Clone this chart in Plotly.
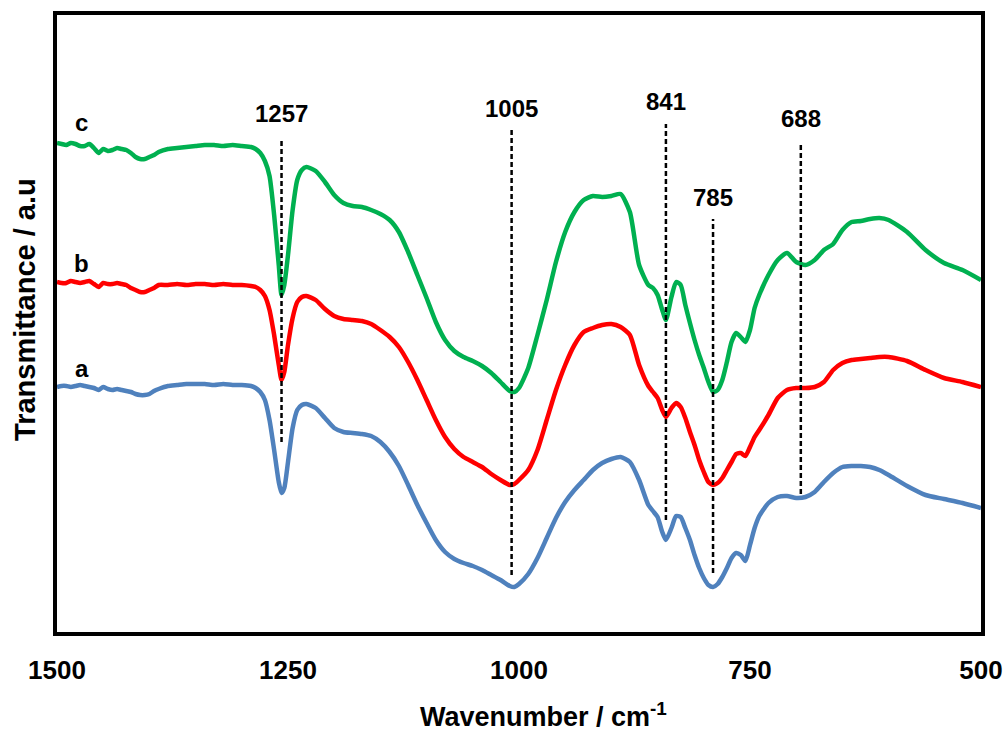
import plotly.graph_objects as go

# Wavenumber grid (cm-1)
wavenumber = [1500, 1495, 1490, 1485, 1480, 1475, 1470, 1465, 1460, 1455, 1450, 1445, 1440, 1435, 1430, 1425,
              1420, 1415, 1410, 1405, 1400, 1395, 1390, 1380, 1370, 1360, 1350, 1340, 1330, 1320, 1310, 1300,
              1290, 1285, 1280, 1275, 1270, 1265, 1260, 1257, 1254, 1250, 1245, 1240, 1235,
              1230, 1220, 1210, 1200, 1190, 1180, 1170, 1160, 1150, 1140, 1130, 1120, 1110, 1100, 1090, 1080,
              1070, 1060, 1050, 1040, 1030, 1020, 1010, 1005, 1000, 990, 980, 970, 960, 950, 940, 930, 920,
              910, 900, 890, 880, 870, 860, 855, 850, 845, 841, 835, 830, 825, 820, 815, 810, 805, 800, 795,
              790, 785, 780, 775, 770, 765, 760, 755, 750, 745, 740, 730, 720, 710, 700, 690, 680, 670, 660,
              650, 640, 630, 620, 610, 600, 580, 560, 540, 520, 500]

# Transmittance (a.u.), offset spectra
trans_c = [489, 488, 487, 489, 488, 486, 486, 488, 484, 479, 483, 481, 482, 484, 483, 482,
           479, 475, 473, 473, 475, 477, 480, 483, 484, 485, 486, 487, 487, 486, 487, 486,
           485, 483, 479, 471, 456, 417, 367, 337, 347, 377, 422, 452, 462,
           465, 461, 450, 437, 429, 426, 425, 422, 418, 412, 400, 380, 357, 334, 310, 292,
           281, 275, 271, 266, 259, 250, 241, 240, 244, 264, 297, 332, 370, 400, 420, 432, 436,
           435, 436, 438, 420, 367, 347, 344, 337, 322, 312, 335, 350, 347, 327, 309, 292, 277, 264, 250,
           240, 242, 252, 270, 290, 299, 295, 290, 302, 324, 337, 357, 372, 379, 370, 367, 372, 382, 388,
           402, 410, 411, 413, 414, 412, 400, 382, 369, 362, 352]

trans_b = [350, 349, 349, 351, 350, 349, 350, 351, 348, 345, 349, 348, 348, 349, 348, 347,
           344, 342, 340, 340, 342, 344, 347, 347, 348, 347, 348, 348, 347, 348, 347, 347,
           346, 345, 342, 336, 322, 297, 267, 252, 260, 287, 314, 330, 335,
           336, 332, 323, 316, 313, 312, 311, 308, 302, 295, 285, 270, 252, 232, 212, 195,
           183, 175, 170, 165, 158, 152, 147, 148, 152, 162, 182, 212, 242, 267, 287, 300, 304,
           307, 308, 305, 297, 267, 246, 240, 234, 222, 215, 224, 229, 225, 214, 200, 187, 172, 160, 150,
           147, 149, 154, 162, 170, 178, 179, 176, 185, 195, 202, 217, 234, 242, 244, 244, 245, 250, 262,
           269, 272, 273, 274, 275, 275, 271, 262, 254, 250, 245]

trans_a = [245, 246, 246, 245, 246, 247, 246, 245, 244, 242, 245, 243, 242, 243, 242, 241,
           240, 238, 237, 237, 238, 241, 243, 246, 247, 248, 248, 248, 247, 248, 247, 247,
           246, 244, 240, 232, 212, 182, 150, 139, 144, 170, 204, 222, 227,
           228, 224, 214, 204, 200, 199, 198, 196, 190, 180, 166, 147, 127, 109, 92, 80,
           73, 69, 66, 62, 57, 52, 46, 45, 48, 58, 74, 94, 114, 130, 142, 152, 162,
           169, 173, 175, 170, 152, 127, 121, 115, 100, 92, 104, 116, 115, 104, 92, 77, 64, 54, 47,
           45, 48, 55, 64, 74, 79, 77, 71, 87, 104, 116, 129, 135, 136, 134, 135, 140, 150, 159,
           165, 166, 166, 165, 162, 157, 146, 137, 133, 129, 124]

series_names = ["a", "b", "c"]
series_colors = ["#4F81BD", "#FF0000", "#00B050"]

# Marked bands: line position, label, top/bottom of dashed line, label height
band_pos = [1257, 1008, 841, 790, 695]
band_labels = ["1257", "1005", "841", "785", "688"]
band_top = [491, 503, 508, 413, 490]
band_bottom = [190, 57, 112, 59, 138]
band_label_y = [519, 524, 531, 435, 514]

# Series letter labels
letter_x = [1473, 1473, 1473]
letter_y = [264, 369, 510]

tick_vals = [1500, 1250, 1000, 750, 500]

FONT = "Arial, Liberation Sans, sans-serif"

fig = go.Figure()
for name, col, ys in zip(series_names, series_colors, [trans_a, trans_b, trans_c]):
    fig.add_trace(go.Scatter(x=wavenumber, y=ys, mode="lines", name=name,
                             line=dict(color=col, width=4.5, shape="spline", smoothing=0.6),
                             showlegend=False))

for pos, lab, top, bot, ly in zip(band_pos, band_labels, band_top, band_bottom, band_label_y):
    fig.add_shape(type="line", xref="x", yref="y", x0=pos, x1=pos, y0=bot, y1=top,
                  line=dict(color="black", width=2.5, dash="5px,3px"))
    fig.add_annotation(x=pos, y=ly, xref="x", yref="y", text="<b>%s</b>" % lab, showarrow=False,
                       font=dict(family=FONT, size=24, color="black"), xanchor="center", yanchor="middle")

for name, lx, ly in zip(series_names, letter_x, letter_y):
    fig.add_annotation(x=lx, y=ly, xref="x", yref="y", text="<b>%s</b>" % name, showarrow=False,
                       font=dict(family=FONT, size=24, color="black"), xanchor="center", yanchor="middle")

# Axis titles
fig.add_annotation(x=0.527, y=-0.1635, xref="paper", yref="paper",
                   text="<b>Wavenumber / cm<sup>-1</sup></b>", showarrow=False, borderpad=0,
                   font=dict(family=FONT, size=27, color="black"), xanchor="center", yanchor="bottom")
fig.add_annotation(x=-0.0346, y=0.522, xref="paper", yref="paper",
                   text="<b>Transmittance / a.u</b>", showarrow=False, textangle=-90,
                   font=dict(family=FONT, size=29, color="black"), xanchor="center", yanchor="middle")

fig.update_layout(
    width=1007, height=733,
    margin=dict(l=57, r=26, t=15, b=101, autoexpand=False),
    paper_bgcolor="white", plot_bgcolor="white",
    font=dict(family=FONT, color="black"),
    xaxis=dict(range=[1500, 500], tickvals=tick_vals, ticktext=["<b>%d</b>" % v for v in tick_vals],
               tickfont=dict(family=FONT, size=26, color="black"),
               ticks="outside", ticklen=12, tickcolor="rgba(0,0,0,0)",
               ticklabeloverflow="allow", automargin=False,
               showline=True, mirror=True, linecolor="black", linewidth=3.5,
               showgrid=False, zeroline=False),
    yaxis=dict(range=[0, 617], showticklabels=False, ticks="", automargin=False,
               showline=True, mirror=True, linecolor="black", linewidth=3.5,
               showgrid=False, zeroline=False),
)

fig.write_html("out.html")
